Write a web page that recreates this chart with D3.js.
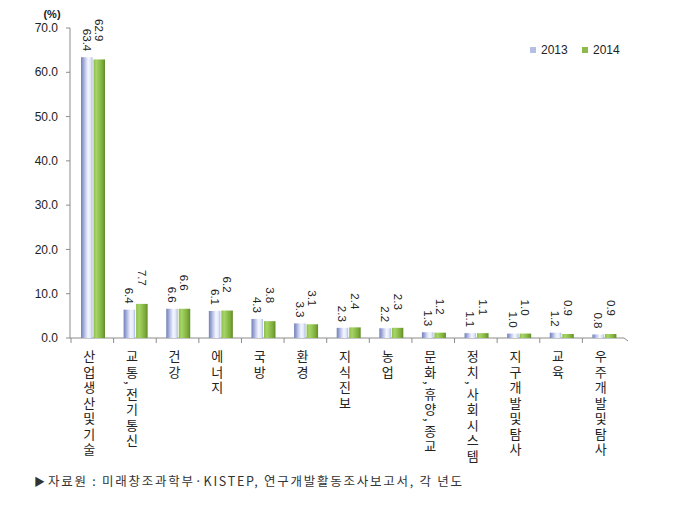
<!DOCTYPE html>
<html>
<head>
<meta charset="utf-8">
<script src="https://cdn.jsdelivr.net/npm/d3@7"></script>
<style>
  body { margin: 0; background: #fff; }
  svg { display: block; }
</style>
</head>
<body>
<svg id="chart" width="680" height="508"></svg>
<script>
// data
const categories = ['산업생산 및 기술', '교통, 전기통신', '건강', '에너지', '국방', '환경', '지식진보',
                    '농업', '문화, 휴양, 종교', '정치, 사회시스템', '지구개발 및 탐사', '교육', '우주개발 및 탐사'];
const years = ['2013', '2014'];
const values2013 = [63.4, 6.4, 6.6, 6.1, 4.3, 3.3, 2.3, 2.2, 1.3, 1.1, 1.0, 1.2, 0.8];
const values2014 = [62.9, 7.7, 6.6, 6.2, 3.8, 3.1, 2.4, 2.3, 1.2, 1.1, 1.0, 0.9, 0.9];
const yTicks = [0, 10, 20, 30, 40, 50, 60, 70];

const svg = d3.select('#chart');
const font = "'Liberation Sans', Arial, 'Noto Sans CJK KR', sans-serif";
const krFont = "'Noto Sans CJK KR', sans-serif";

const y = d3.scaleLinear().domain([0, 70]).range([338, 28]);
const x = d3.scaleBand().domain(categories).range([68, 622]).padding(0);
const x1 = d3.scaleBand().domain(years).range([0, 25]).padding(0);

// gradients for the bars
const defs = svg.append('defs');
function grad(id, stops) {
  const g = defs.append('linearGradient').attr('id', id)
    .attr('x1', '0%').attr('x2', '100%').attr('y1', '0%').attr('y2', '0%');
  stops.forEach(s => g.append('stop').attr('offset', s[0]).attr('stop-color', s[1]));
}
grad('g2013', [['0%', '#7480b6'], ['20%', '#9aa5d6'], ['40%', '#c9cfee'], ['62%', '#f4f7ff'], ['85%', '#dfe6f7'], ['100%', '#a9b4de']]);
grad('g2014', [['0%', '#8cbf48'], ['25%', '#a6d468'], ['50%', '#92c24f'], ['80%', '#7aa93a'], ['100%', '#5e8a27']]);

// y axis
svg.append('line')
  .attr('x1', 70).attr('x2', 70)
  .attr('y1', y(70)).attr('y2', y(0))
  .attr('stroke', '#8c8c8c');

svg.append('g').selectAll('line')
  .data(yTicks)
  .join('line')
  .attr('x1', 66).attr('x2', 70)
  .attr('y1', d => y(d)).attr('y2', d => y(d))
  .attr('stroke', '#8c8c8c');

svg.append('g').selectAll('text')
  .data(yTicks)
  .join('text')
  .attr('x', 58)
  .attr('y', d => y(d))
  .attr('dy', '0.35em')
  .attr('text-anchor', 'end')
  .attr('font-family', font)
  .attr('font-size', 12)
  .attr('fill', '#222')
  .text(d => d.toFixed(1));

svg.append('text')
  .attr('x', 52).attr('y', 18)
  .attr('text-anchor', 'middle')
  .attr('font-family', font)
  .attr('font-size', 11)
  .attr('font-weight', 'bold')
  .attr('fill', '#222')
  .text('(%)');

// x axis (floor)
svg.append('line')
  .attr('x1', 70).attr('x2', 624)
  .attr('y1', 338).attr('y2', 338)
  .attr('stroke', '#8c8c8c');
svg.append('line')
  .attr('x1', 624).attr('x2', 628)
  .attr('y1', 338).attr('y2', 341)
  .attr('stroke', '#8c8c8c');

svg.append('g').selectAll('line')
  .data(categories)
  .join('line')
  .attr('x1', d => x(d) + 3).attr('x2', d => x(d) + 3)
  .attr('y1', 338).attr('y2', 343)
  .attr('stroke', '#8c8c8c');

// bars
const series = [
  { year: '2013', values: values2013 },
  { year: '2014', values: values2014 }
];
const barOff = 13;
const bars = svg.append('g');
series.forEach(s => {
  bars.append('g').selectAll('rect')
    .data(s.values)
    .join('rect')
    .attr('x', (d, i) => x(categories[i]) + barOff + x1(s.year))
    .attr('y', d => y(d))
    .attr('width', x1.bandwidth() - 1)
    .attr('height', d => y(0) - y(d))
    .attr('fill', `url(#g${s.year})`);
});

// value labels (rotated)
const gap = { '2013': 6, '2014': 18 };
series.forEach(s => {
  svg.append('g').selectAll('text')
    .data(s.values)
    .join('text')
    .attr('transform', (d, i) => {
      const cx = x(categories[i]) + barOff + x1(s.year) + x1.bandwidth() / 2 - 0.5;
      return `translate(${cx},${y(d) - gap[s.year]}) rotate(90)`;
    })
    .attr('text-anchor', 'end')
    .attr('dy', '0.35em')
    .attr('font-family', font)
    .attr('font-size', 11.5)
    .attr('fill', '#222')
    .text(d => d.toFixed(1));
});

// category labels, set vertically
svg.append('g').selectAll('text')
  .data(categories)
  .join('text')
  .attr('x', d => x(d) + x.bandwidth() / 2)
  .attr('y', 350)
  .style('writing-mode', 'vertical-rl')
  .style('letter-spacing', '2.5px')
  .attr('font-family', krFont)
  .attr('font-size', 13)
  .attr('fill', '#222')
  .text(d => d.replace(/ /g, ''));

// legend
const legend = svg.append('g');
const legendX = { '2013': 530, '2014': 582 };
years.forEach(yr => {
  legend.append('rect')
    .attr('x', legendX[yr]).attr('y', 47)
    .attr('width', 6).attr('height', 6)
    .attr('fill', yr === '2013' ? '#b5bfe3' : '#8cbb4a');
  legend.append('text')
    .attr('x', legendX[yr] + 11).attr('y', 50)
    .attr('dy', '0.35em')
    .attr('font-family', font).attr('font-size', 12).attr('fill', '#222')
    .text(yr);
});

// source note
svg.append('text')
  .attr('x', 34).attr('y', 486)
  .attr('font-family', krFont).attr('font-size', 11).attr('fill', '#333')
  .text('▶');
svg.append('text')
  .attr('x', 48).attr('y', 486)
  .attr('textLength', 414).attr('lengthAdjust', 'spacing')
  .attr('font-family', krFont).attr('font-size', 12.5).attr('fill', '#333')
  .text('자료원 : 미래창조과학부·KISTEP, 연구개발활동조사보고서, 각 년도');
</script>
</body>
</html>
